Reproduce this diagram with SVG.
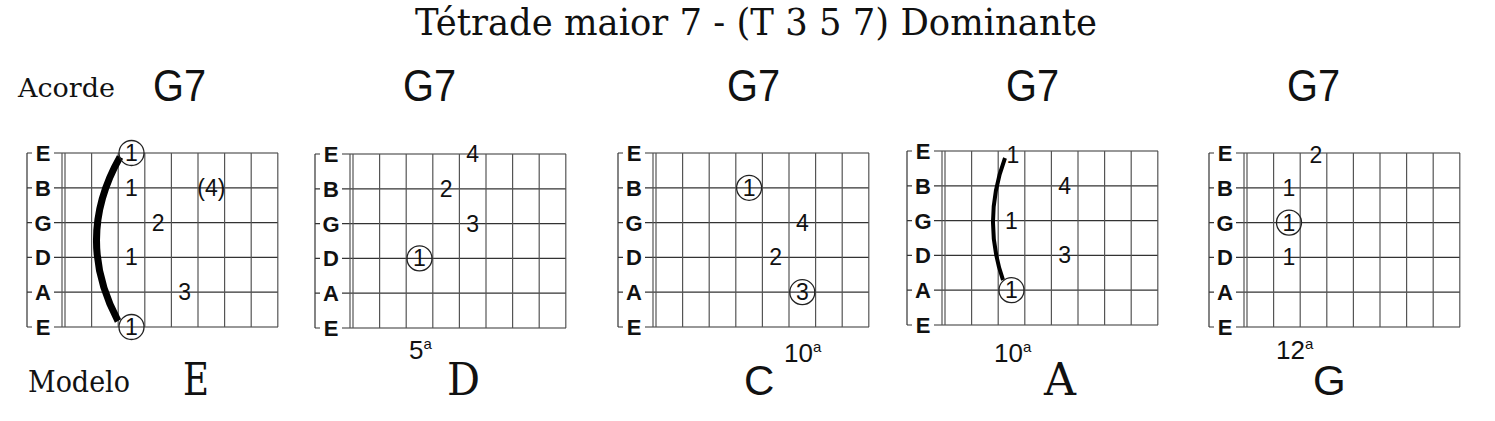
<svg xmlns="http://www.w3.org/2000/svg" width="1495" height="421" viewBox="0 0 1495 421">
<defs>
<style>
.title{font-family:"DejaVu Serif","Liberation Serif",serif;font-size:37px;fill:#111}
.lbl{font-family:"DejaVu Serif","Liberation Serif",serif;fill:#111}
.chord{font-family:"Liberation Sans","DejaVu Sans",sans-serif;font-size:44px;fill:#111}
.mserif{font-family:"DejaVu Serif","Liberation Serif",serif;font-size:44px;fill:#111}
.msans{font-family:"Liberation Sans","DejaVu Sans",sans-serif;font-size:42px;fill:#111}
.pos{font-family:"Liberation Sans","DejaVu Sans",sans-serif;font-size:26px;fill:#111}
.sup{font-family:"Liberation Sans","DejaVu Sans",sans-serif;font-size:15px;fill:#111}
.str{stroke:#333;stroke-width:1.2}
.fret{stroke:#555;stroke-width:1.2}
.sl{font-family:"Liberation Sans","DejaVu Sans",sans-serif;font-size:22px;font-weight:bold;fill:#111;text-anchor:middle}
.fg{font-family:"Liberation Sans","DejaVu Sans",sans-serif;font-size:23px;fill:#111;text-anchor:middle}
.ring{fill:none;stroke:#222;stroke-width:1.3}
.bar{fill:none;stroke:#000;stroke-linecap:butt}
</style>
<g id="fretboard">
<line class="str" x1="-35" y1="0" x2="-35" y2="174"/>
<line class="str" x1="-35" y1="0" x2="216" y2="0"/>
<line class="str" x1="-35" y1="34.8" x2="216" y2="34.8"/>
<line class="str" x1="-35" y1="69.6" x2="216" y2="69.6"/>
<line class="str" x1="-35" y1="104.4" x2="216" y2="104.4"/>
<line class="str" x1="-35" y1="139.2" x2="216" y2="139.2"/>
<line class="str" x1="-35" y1="174" x2="216" y2="174"/>
<line class="fret" x1="0" y1="0" x2="0" y2="174"/>
<line class="fret" x1="3" y1="0" x2="3" y2="174"/>
<line class="fret" x1="29.6" y1="0" x2="29.6" y2="174"/>
<line class="fret" x1="56.2" y1="0" x2="56.2" y2="174"/>
<line class="fret" x1="82.8" y1="0" x2="82.8" y2="174"/>
<line class="fret" x1="109.4" y1="0" x2="109.4" y2="174"/>
<line class="fret" x1="136" y1="0" x2="136" y2="174"/>
<line class="fret" x1="162.6" y1="0" x2="162.6" y2="174"/>
<line class="fret" x1="189.2" y1="0" x2="189.2" y2="174"/>
<line class="fret" x1="215.8" y1="0" x2="215.8" y2="174"/>
<rect x="-30" y="-11" width="22" height="22" fill="#fff"/>
<rect x="-30" y="23.8" width="22" height="22" fill="#fff"/>
<rect x="-30" y="58.6" width="22" height="22" fill="#fff"/>
<rect x="-30" y="93.4" width="22" height="22" fill="#fff"/>
<rect x="-30" y="128.2" width="22" height="22" fill="#fff"/>
<rect x="-30" y="163" width="22" height="22" fill="#fff"/>
<text class="sl" x="-19" y="8">E</text>
<text class="sl" x="-19" y="42.8">B</text>
<text class="sl" x="-19" y="77.6">G</text>
<text class="sl" x="-19" y="112.4">D</text>
<text class="sl" x="-19" y="147.2">A</text>
<text class="sl" x="-19" y="182">E</text>
</g>
</defs>

<text class="title" x="415" y="35" textLength="682" lengthAdjust="spacingAndGlyphs">Tétrade maior 7 - (T  3  5  7) Dominante</text>

<text class="lbl" x="18" y="97" font-size="26" textLength="97" lengthAdjust="spacingAndGlyphs">Acorde</text>
<text class="lbl" x="28" y="392" font-size="29" textLength="102" lengthAdjust="spacingAndGlyphs">Modelo</text>

<g id="chord1">
<text class="chord" x="153" y="101" textLength="53" lengthAdjust="spacingAndGlyphs">G7</text>
<g transform="translate(62,153)">
<use href="#fretboard"/>
<path class="bar" stroke-width="7" d="M58 4 Q12 85 56 168"/>
<circle class="ring" cx="69.5" cy="0" r="12.5"/>
<text class="fg" x="69.5" y="8">1</text>
<text class="fg" x="69.5" y="42.8">1</text>
<text class="fg" x="149.3" y="42.8">(4)</text>
<text class="fg" x="96.1" y="77.6">2</text>
<text class="fg" x="69.5" y="112.4">1</text>
<text class="fg" x="122.7" y="147.2">3</text>
<circle class="ring" cx="69.5" cy="174" r="12.5"/>
<text class="fg" x="69.5" y="182">1</text>
</g>
<text class="mserif" x="183" y="395" textLength="26" lengthAdjust="spacingAndGlyphs">E</text>
</g>

<g id="chord2">
<text class="chord" x="403" y="101" textLength="53" lengthAdjust="spacingAndGlyphs">G7</text>
<g transform="translate(350,154)">
<use href="#fretboard"/>
<text class="fg" x="122.7" y="8">4</text>
<text class="fg" x="96.1" y="42.8">2</text>
<text class="fg" x="122.7" y="77.6">3</text>
<circle class="ring" cx="69.5" cy="104.4" r="12.5"/>
<text class="fg" x="69.5" y="112.4">1</text>
</g>
<text class="pos" x="409" y="359">5<tspan class="sup" dy="-10">a</tspan></text>
<text class="mserif" x="447" y="395" textLength="33" lengthAdjust="spacingAndGlyphs">D</text>
</g>

<g id="chord3">
<text class="chord" x="727" y="101" textLength="53" lengthAdjust="spacingAndGlyphs">G7</text>
<g transform="translate(653,153)">
<use href="#fretboard"/>
<circle class="ring" cx="96.1" cy="34.8" r="12.5"/>
<text class="fg" x="96.1" y="42.8">1</text>
<text class="fg" x="149.3" y="77.6">4</text>
<text class="fg" x="122.7" y="112.4">2</text>
<circle class="ring" cx="149.3" cy="139.2" r="12.5"/>
<text class="fg" x="149.3" y="147.2">3</text>
</g>
<text class="msans" x="744" y="395">C</text>
<text class="pos" x="784" y="362">10<tspan class="sup" dy="-10">a</tspan></text>
</g>

<g id="chord4">
<text class="chord" x="1006" y="101" textLength="53" lengthAdjust="spacingAndGlyphs">G7</text>
<g transform="translate(942,151)">
<use href="#fretboard"/>
<path class="bar" stroke-width="4" d="M63 7 Q40 69 61 129"/>
<text class="fg" x="71" y="12">1</text>
<text class="fg" x="122.7" y="42.8">4</text>
<text class="fg" x="69.5" y="77.6">1</text>
<text class="fg" x="122.7" y="112.4">3</text>
<circle class="ring" cx="69.5" cy="139.2" r="12.5"/>
<text class="fg" x="69.5" y="147.2">1</text>
</g>
<text class="pos" x="994" y="362">10<tspan class="sup" dy="-10">a</tspan></text>
<text class="mserif" x="1044" y="395" textLength="32" lengthAdjust="spacingAndGlyphs">A</text>
</g>

<g id="chord5">
<text class="chord" x="1287" y="101" textLength="53" lengthAdjust="spacingAndGlyphs">G7</text>
<g transform="translate(1244,153)">
<use href="#fretboard"/>
<text class="fg" x="72" y="10">2</text>
<text class="fg" x="45" y="42.8">1</text>
<circle class="ring" cx="45" cy="69.6" r="12.5"/>
<text class="fg" x="45" y="77.6">1</text>
<text class="fg" x="45" y="112.4">1</text>
</g>
<text class="pos" x="1276" y="359">12<tspan class="sup" dy="-10">a</tspan></text>
<text class="msans" x="1313" y="395">G</text>
</g>
</svg>
